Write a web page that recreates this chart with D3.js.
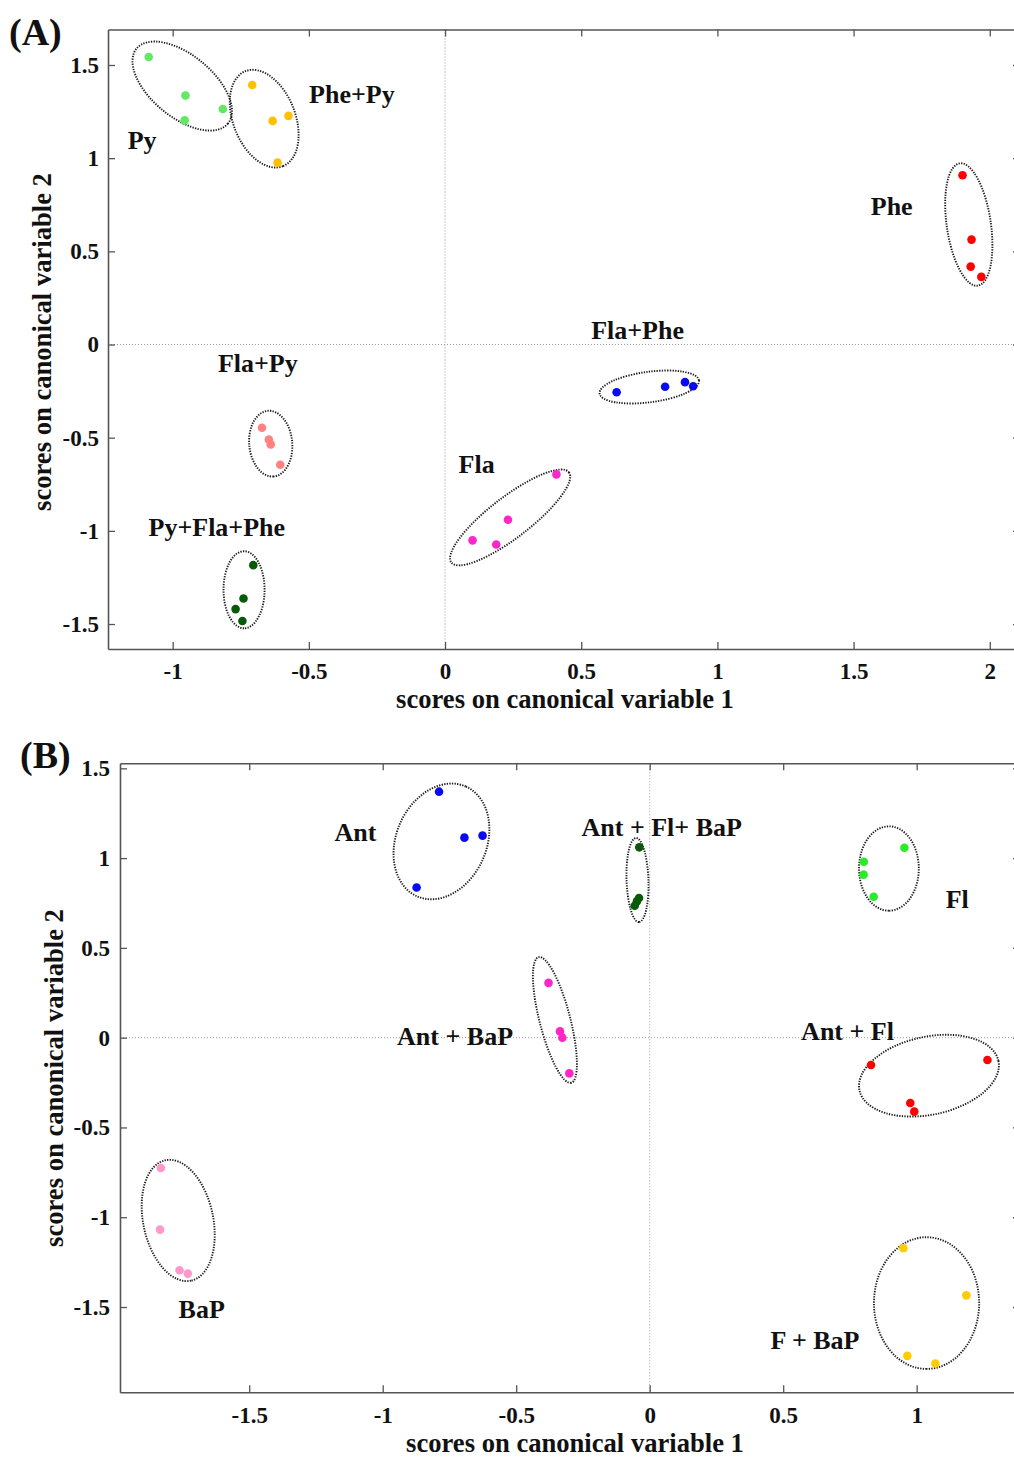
<!DOCTYPE html>
<html><head><meta charset="utf-8">
<script src="https://cdn.jsdelivr.net/npm/d3@7"></script>
<style>
body{margin:0;background:#fff;}
svg text{font-family:"Liberation Serif","Times New Roman",serif;font-weight:bold;fill:#111;}
</style></head><body>
<svg id="c" width="1014" height="1458"></svg>
<script>
// ---------- Panel A data ----------
const groupsA = ["Py","Phe+Py","Phe","Fla+Phe","Fla","Fla+Py","Py+Fla+Phe"];
const colorsA = ["#62e862","#ffc000","#ff0000","#0a0af0","#ff26c8","#ff8282","#075a07"];
const A_Py       = [[-1.088,1.543],[-0.953,1.336],[-0.956,1.203],[-0.816,1.264]];
const A_PhePy    = [[-0.708,1.393],[-0.633,1.200],[-0.575,1.227],[-0.615,0.976]];
const A_Phe      = [[1.900,0.908],[1.933,0.563],[1.930,0.418],[1.969,0.363]];
const A_FlaPhe   = [[0.630,-0.256],[0.808,-0.227],[0.881,-0.202],[0.911,-0.224]];
const A_Fla      = [[0.409,-0.697],[0.231,-0.940],[0.101,-1.051],[0.188,-1.073]];
const A_FlaPy    = [[-0.672,-0.447],[-0.647,-0.510],[-0.640,-0.536],[-0.605,-0.645]];
const A_PyFlaPhe = [[-0.704,-1.184],[-0.740,-1.363],[-0.769,-1.420],[-0.744,-1.484]];
// ellipse: centre (data), semi-axes (x-axis units), rotation (deg)
const ellCentreA = [[-0.965,1.387],[-0.664,1.212],[1.923,0.644],[0.750,-0.228],[0.239,-0.928],[-0.640,-0.532],[-0.738,-1.316]];
const ellAxesA   = [[0.217,0.114],[0.1875,0.114],[0.227,0.081],[0.184,0.056],[0.272,0.075],[0.121,0.079],[0.1415,0.0754]];
const ellAngleA  = [39.4,68.5,81.6,-7.5,-37.5,85,90];
const labelPosA  = [[-1.112,1.051],[-0.342,1.298],[1.640,0.697],[0.707,0.027],[0.116,-0.687],[-0.6875,-0.150],[-0.838,-1.030]];
const xTicksA = [-1,-0.5,0,0.5,1,1.5,2];
const yTicksA = [-1.5,-1,-0.5,0,0.5,1,1.5];

// ---------- Panel B data ----------
const groupsB = ["Ant","Ant + Fl+ BaP","Fl","Ant + BaP","Ant + Fl","F + BaP","BaP"];
const colorsB = ["#0a0af0","#075a07","#28ec28","#ff26c8","#ff0000","#ffcc00","#ff99cc"];
const B_Ant      = [[-0.789,1.370],[-0.694,1.114],[-0.626,1.125],[-0.873,0.836]];
const B_AntFlBaP = [[-0.039,1.060],[-0.040,0.778],[-0.048,0.759],[-0.056,0.735]];
const B_Fl       = [[0.954,1.058],[0.802,0.980],[0.801,0.908],[0.839,0.785]];
const B_AntBaP   = [[-0.379,0.305],[-0.336,0.035],[-0.327,0.000],[-0.301,-0.199]];
const B_AntFl    = [[0.829,-0.152],[1.265,-0.124],[0.976,-0.364],[0.991,-0.412]];
const B_FBaP     = [[0.950,-1.173],[1.186,-1.435],[0.965,-1.772],[1.070,-1.815]];
const B_BaP      = [[-1.831,-0.726],[-1.834,-1.069],[-1.761,-1.295],[-1.730,-1.314]];
const ellCentreB = [[-0.780,1.093],[-0.0457,0.878],[0.896,0.942],[-0.355,0.0985],[1.046,-0.2116],[1.037,-1.478],[-1.766,-1.018]];
const ellAxesB   = [[0.225,0.169],[0.1575,0.041],[0.158,0.112],[0.243,0.0574],[0.266,0.146],[0.2467,0.197],[0.2306,0.131]];
const ellAngleB  = [-66,88,90,75.5,-12,90,78];
const labelPosB  = [[-1.102,1.097],[0.045,1.125],[1.152,0.724],[-0.729,-0.039],[0.741,-0.011],[0.619,-1.7316],[-1.678,-1.559]];
const xTicksB = [-1.5,-1,-0.5,0,0.5,1];
const yTicksB = [-1.5,-1,-0.5,0,0.5,1,1.5];

const axisTitleX = "scores on canonical variable 1";
const axisTitleY = "scores on canonical variable 2";

const svg = d3.select("#c");

function drawPanel(o){
  const g = svg.append("g");
  const x = o.x, y = o.y;
  const [x0,x1] = x.range(), [y0,y1] = y.range(); // y0 bottom, y1 top
  const fmt = d => String(d);
  const styleAxis = sel => {
    sel.select(".domain").attr("stroke","#555").attr("stroke-width",1.6);
    sel.selectAll(".tick line").attr("stroke","#555").attr("stroke-width",1.3);
    sel.selectAll(".tick text").attr("font-size",o.tickFs).attr("fill","#111")
      .style("font-family",'"Liberation Serif","Times New Roman",serif').style("font-weight","bold");
  };
  // zero reference lines
  g.append("line").attr("x1",x(0)).attr("x2",x(0)).attr("y1",y1).attr("y2",y0)
    .attr("stroke","#999").attr("stroke-width",1).attr("stroke-dasharray","1,2");
  g.append("line").attr("x1",x0).attr("x2",x1).attr("y1",y(0)).attr("y2",y(0))
    .attr("stroke","#999").attr("stroke-width",1).attr("stroke-dasharray","1,2");
  // axes
  g.append("g").attr("transform",`translate(0,${y0})`)
    .call(d3.axisBottom(x).tickValues(o.xTicks).tickFormat(fmt).tickSizeInner(-7).tickSizeOuter(0).tickPadding(o.xPad))
    .call(styleAxis);
  g.append("g").attr("transform",`translate(0,${y1})`)
    .call(d3.axisTop(x).tickValues(o.xTicks).tickFormat("").tickSizeInner(-7).tickSizeOuter(0))
    .call(styleAxis);
  g.append("g").attr("transform",`translate(${x0},0)`)
    .call(d3.axisLeft(y).tickValues(o.yTicks).tickFormat(fmt).tickSizeInner(-7).tickSizeOuter(0).tickPadding(o.yPad))
    .call(styleAxis);
  g.append("g").attr("transform",`translate(${x1},0)`)
    .call(d3.axisRight(y).tickValues(o.yTicks).tickFormat("").tickSizeInner(-7).tickSizeOuter(0))
    .call(styleAxis);
  g.selectAll(".domain").attr("fill","none");

  const kx = x(1)-x(0);
  // ellipses
  g.selectAll("ellipse.grp").data(o.groups).join("ellipse").attr("class","grp")
    .attr("cx",0).attr("cy",0)
    .attr("rx",(d,i)=>o.eAxes[i][0]*kx).attr("ry",(d,i)=>o.eAxes[i][1]*kx)
    .attr("transform",(d,i)=>`translate(${x(o.eCentre[i][0])},${y(o.eCentre[i][1])}) rotate(${o.eAngle[i]})`)
    .attr("fill","none").attr("stroke","#1a1a1a").attr("stroke-width",1.9).attr("stroke-dasharray","1.3,1.3");
  // points
  o.pts.forEach((arr,i)=>{
    g.selectAll(null).data(arr).join("circle")
      .attr("cx",d=>x(d[0])).attr("cy",d=>y(d[1])).attr("r",4.3)
      .attr("fill",o.colors[i]);
  });
  // group labels
  g.selectAll("text.lab").data(o.groups).join("text").attr("class","lab")
    .attr("x",(d,i)=>x(o.labelPos[i][0])).attr("y",(d,i)=>y(o.labelPos[i][1]))
    .attr("text-anchor","middle").attr("font-size",o.labFs).text(d=>d);
  // axis titles
  g.append("text").attr("x",o.xTitle[0]).attr("y",o.xTitle[1]).attr("text-anchor","middle")
    .attr("font-size",o.titleFs).text(axisTitleX);
  g.append("text").attr("transform",`translate(${o.yTitle[0]},${o.yTitle[1]}) rotate(-90)`)
    .attr("text-anchor","middle").attr("font-size",o.titleFs).text(axisTitleY);
  // panel letter
  g.append("text").attr("x",o.letter[1][0]).attr("y",o.letter[1][1]).attr("font-size",38).text(o.letter[0]);
}

drawPanel({
  x: d3.scaleLinear().domain([-1.2375,2.111]).range([108,1020]),
  y: d3.scaleLinear().domain([-1.634,1.6905]).range([649,29.5]),
  xTicks:xTicksA, yTicks:yTicksA, groups:groupsA, colors:colorsA,
  pts:[A_Py,A_PhePy,A_Phe,A_FlaPhe,A_Fla,A_FlaPy,A_PyFlaPhe],
  eCentre:ellCentreA, eAxes:ellAxesA, eAngle:ellAngleA, labelPos:labelPosA,
  tickFs:23, labFs:26, titleFs:26.6, xPad:14, yPad:9,
  xTitle:[565,708], yTitle:[51,342], letter:["(A)",[9,45]]
});
drawPanel({
  x: d3.scaleLinear().domain([-1.984,1.387]).range([120,1020]),
  y: d3.scaleLinear().domain([-1.975,1.528]).range([1392.3,763.3]),
  xTicks:xTicksB, yTicks:yTicksB, groups:groupsB, colors:colorsB,
  pts:[B_Ant,B_AntFlBaP,B_Fl,B_AntBaP,B_AntFl,B_FBaP,B_BaP],
  eCentre:ellCentreB, eAxes:ellAxesB, eAngle:ellAngleB, labelPos:labelPosB,
  tickFs:23, labFs:26, titleFs:26.6, xPad:14, yPad:10,
  xTitle:[575,1452], yTitle:[63,1078], letter:["(B)",[20,768]]
});
</script>
</body></html>
